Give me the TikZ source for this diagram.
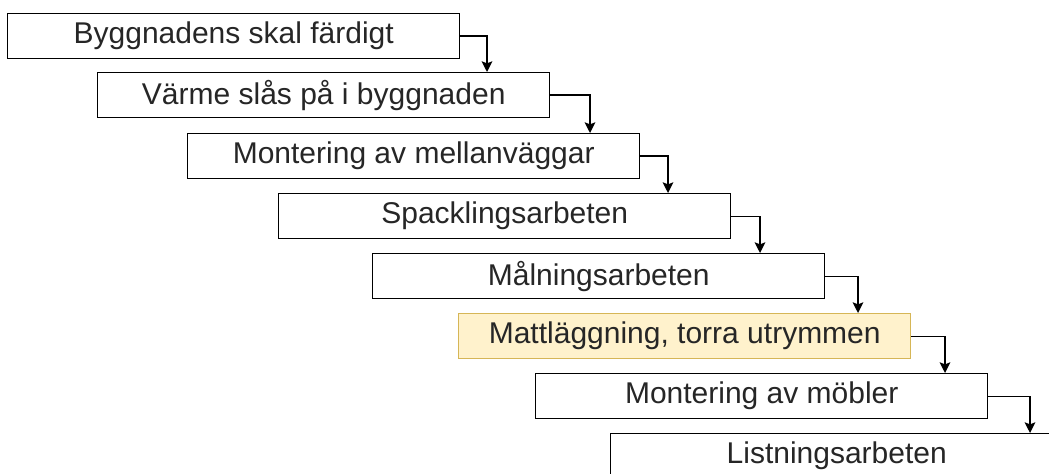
\documentclass[tikz,border=0pt]{standalone}
\usepackage{fontspec}
\setmainfont{Liberation Sans}
\usetikzlibrary{calc,arrows.meta}
\tikzset{stepbox/.style={draw=black, line width=1.1pt, fill=white, anchor=north west,
                         minimum width=339pt, minimum height=33.75pt, inner sep=0pt,
                         text=black!85, font=\fontsize{22.5}{27}\selectfont},
         highlight/.style={fill=yellowbg, draw=yellowline},
         flow/.style={line width=1.1pt, -{Stealth[length=8pt,width=8pt,inset=1.5pt]}}}
\definecolor{yellowbg}{HTML}{FFF2CC}
\definecolor{yellowline}{HTML}{D6B656}

\begin{document}
\begin{tikzpicture}[x=0.75pt,y=-0.75pt]
                      \useasboundingbox (0,0) rectangle (1049,474);
                      \node[stepbox] (b1) at (7,13)  {Byggnadens skal färdigt};
                      \node[stepbox] (b2) at (97,72) {Värme slås på i byggnaden};
                      \node[stepbox] (b3) at (187,133) {Montering av mellanväggar};
                      \node[stepbox] (b4) at (278,193) {Spacklingsarbeten};
                      \node[stepbox] (b5) at (372,253) {Målningsarbeten};
                      \node[stepbox,highlight] (b6) at (458,313) {Mattläggning, torra utrymmen};
                      \node[stepbox] (b7) at (535,373) {Montering av möbler};
                      \node[stepbox] (b8) at (610,433) {Listningsarbeten};
                      \draw[flow] (b1.east) -| ($(b2.north west)+(390,0)$);
                      \draw[flow] (b2.east) -| ($(b3.north west)+(403,0)$);
                      \draw[flow] (b3.east) -| ($(b4.north west)+(390,0)$);
                      \draw[flow] (b4.east) -| ($(b5.north west)+(388,0)$);
                      \draw[flow] (b5.east) -| ($(b6.north west)+(400,0)$);
                      \draw[flow] (b6.east) -| ($(b7.north west)+(410,0)$);
                      \draw[flow] (b7.east) -| ($(b8.north west)+(420,0)$);
                \end{tikzpicture}
\end{document}
